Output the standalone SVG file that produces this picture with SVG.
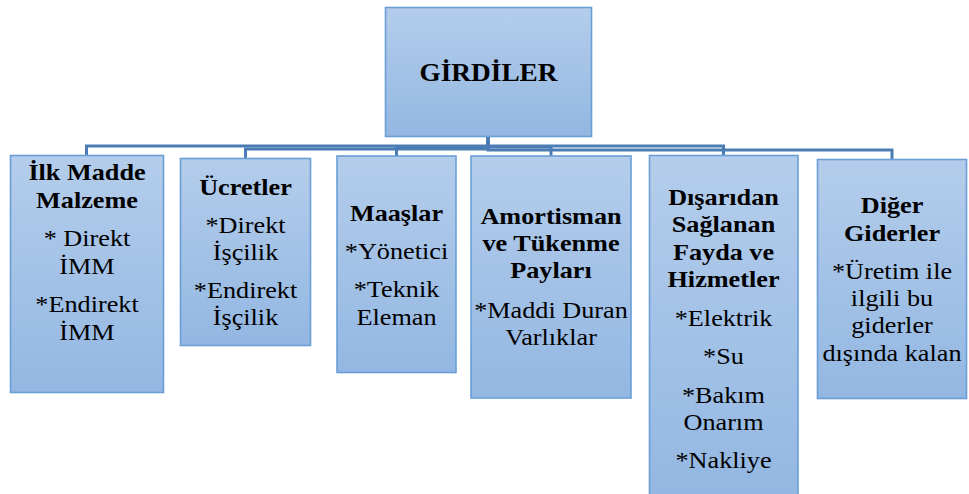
<svg xmlns="http://www.w3.org/2000/svg" width="969" height="494" viewBox="0 0 969 494">
<defs>
<linearGradient id="g" x1="0" y1="0" x2="0" y2="1">
<stop offset="0" stop-color="#b4cdeb"/>
<stop offset="1" stop-color="#93b7e2"/>
</linearGradient>
<style>
.box{fill:url(#g);stroke:#6a9fd6;stroke-width:1.6}
.t{font-family:"Times New Roman","Liberation Serif",Tinos,"Noto Serif","DejaVu Serif",FreeSerif,Times,serif;font-size:23px;fill:#000;text-anchor:middle}
.b{font-weight:bold}
.c{fill:none;stroke:#4b7cb3;stroke-width:3}
</style>
</defs>
<rect width="969" height="494" fill="#fff"/>
<g id="connectors">
<path class="c" d="M488,137 V146 H86.5 V155"/>
<path class="c" d="M488,137 V149 H245.5 V158"/>
<path class="c" d="M488,137 V147 H396.5 V156"/>
<path class="c" d="M488,137 V147 H551 V156"/>
<path class="c" d="M488,137 V146 H723.5 V155"/>
<path class="c" d="M488,137 V150 H892 V159"/>
</g>
<g id="girdiler">
<rect class="box" x="385.5" y="7.5" width="206" height="129"/>
<g transform="translate(488.5 0) scale(1.05 1)"><text class="t b" x="0" y="81" style="font-size:26px">GİRDİLER</text></g>
</g>
<g id="ilk-madde">
<rect class="box" x="10.5" y="155.5" width="153" height="237"/>
<g transform="translate(87 0) scale(1.14 1)">
<text class="t b" x="0" y="180">İlk Madde</text>
<text class="t b" x="0" y="208">Malzeme</text>
<text class="t" x="0" y="246.5">* Direkt</text>
<text class="t" x="0" y="274">İMM</text>
<text class="t" x="0" y="312.5">*Endirekt</text>
<text class="t" x="0" y="340">İMM</text>
</g>
</g>
<g id="ucretler">
<rect class="box" x="180.5" y="158.5" width="130" height="187"/>
<g transform="translate(245.5 0) scale(1.14 1)">
<text class="t b" x="0" y="195">Ücretler</text>
<text class="t" x="0" y="233">*Direkt</text>
<text class="t" x="0" y="260">İşçilik</text>
<text class="t" x="0" y="298">*Endirekt</text>
<text class="t" x="0" y="325">İşçilik</text>
</g>
</g>
<g id="maaslar">
<rect class="box" x="337" y="156" width="119" height="216.5"/>
<g transform="translate(396.5 0) scale(1.14 1)">
<text class="t b" x="0" y="221">Maaşlar</text>
<text class="t" x="0" y="259">*Yönetici</text>
<text class="t" x="0" y="297">*Teknik</text>
<text class="t" x="0" y="325">Eleman</text>
</g>
</g>
<g id="amortisman">
<rect class="box" x="471" y="156" width="160" height="242"/>
<g transform="translate(551 0) scale(1.14 1)">
<text class="t b" x="0" y="224">Amortisman</text>
<text class="t b" x="0" y="251.5">ve Tükenme</text>
<text class="t b" x="0" y="278.5">Payları</text>
<text class="t" x="0" y="318">*Maddi Duran</text>
<text class="t" x="0" y="345">Varlıklar</text>
</g>
</g>
<g id="disaridan">
<rect class="box" x="649.5" y="155.5" width="148.5" height="345"/>
<g transform="translate(723.5 0) scale(1.14 1)">
<text class="t b" x="0" y="205">Dışarıdan</text>
<text class="t b" x="0" y="232">Sağlanan</text>
<text class="t b" x="0" y="260">Fayda ve</text>
<text class="t b" x="0" y="287">Hizmetler</text>
<text class="t" x="0" y="326.5">*Elektrik</text>
<text class="t" x="0" y="364">*Su</text>
<text class="t" x="0" y="403">*Bakım</text>
<text class="t" x="0" y="430.5">Onarım</text>
<text class="t" x="0" y="468">*Nakliye</text>
</g>
</g>
<g id="diger">
<rect class="box" x="817.5" y="159.5" width="149" height="239"/>
<g transform="translate(892 0) scale(1.14 1)">
<text class="t b" x="0" y="213">Diğer</text>
<text class="t b" x="0" y="241">Giderler</text>
<text class="t" x="0" y="279">*Üretim ile</text>
<text class="t" x="0" y="306">ilgili bu</text>
<text class="t" x="0" y="333">giderler</text>
<text class="t" x="0" y="361">dışında kalan</text>
</g>
</g>
</svg>
